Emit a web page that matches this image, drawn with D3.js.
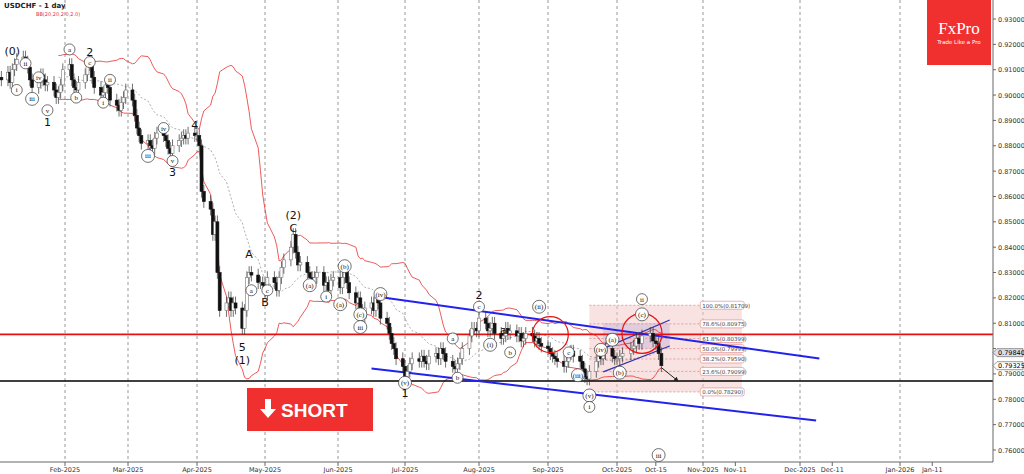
<!DOCTYPE html>
<html><head><meta charset="utf-8">
<script src="https://cdn.jsdelivr.net/npm/d3@7"></script>
<style>body{margin:0;background:#fff}svg{display:block;font-family:"DejaVu Sans",sans-serif}</style>
</head><body><svg id="c" width="1024" height="474"></svg>
<script>
// daily closes, month by month (trading days)
const closesJan = [0.907,0.906,0.909,0.905,0.910,0.912,0.914,0.915,0.913,0.911,0.906,0.903,0.905,0.908,0.906,0.904,0.905,0.902,0.899,0.901,0.904,0.910];
const closesFeb = [0.912,0.906,0.903,0.902,0.905,0.908,0.912,0.913,0.907,0.903,0.900,0.901,0.904,0.903,0.898,0.896,0.894,0.897,0.899,0.902];
const closesMar = [0.898,0.892,0.887,0.884,0.881,0.882,0.880,0.879,0.883,0.885,0.884,0.882,0.879,0.877,0.880,0.882,0.883,0.884,0.883,0.885,0.884];
const closesApr = [0.884,0.880,0.862,0.858,0.855,0.845,0.850,0.830,0.815,0.818,0.820,0.815,0.818,0.816,0.808,0.815,0.828,0.830,0.829,0.826,0.826,0.825];
const closesMay = [0.822,0.828,0.826,0.823,0.828,0.832,0.835,0.840,0.845,0.838,0.833,0.834,0.830,0.828,0.826,0.828,0.830,0.825,0.826,0.823,0.827,0.828];
const closesJun = [0.824,0.828,0.831,0.826,0.822,0.818,0.820,0.815,0.812,0.816,0.818,0.815,0.820,0.818,0.812,0.810,0.806,0.802,0.800,0.796,0.793];
const closesJul = [0.789,0.791,0.794,0.796,0.795,0.797,0.795,0.794,0.797,0.798,0.796,0.800,0.798,0.795,0.793,0.792,0.794,0.796,0.800,0.805,0.808,0.808,0.807];
const closesAug = [0.812,0.810,0.807,0.808,0.810,0.806,0.804,0.805,0.808,0.806,0.807,0.805,0.806,0.803,0.804,0.806,0.805,0.803,0.804,0.802,0.801];
const closesSep = [0.800,0.798,0.797,0.796,0.795,0.793,0.795,0.798,0.799,0.797,0.795,0.792,0.789,0.788,0.791,0.795,0.797,0.796,0.798,0.800,0.797,0.796];
const closesOct = [0.796,0.797,0.798,0.800,0.801,0.804,0.802,0.805,0.806,0.803,0.802,0.798,0.79325];

const monthTicks = ["2025-02-01","2025-03-01","2025-04-01","2025-05-01","2025-06-01","2025-07-01","2025-08-01","2025-09-01","2025-10-01","2025-11-01","2025-12-01","2026-01-01"];
const monthLabels = ["Feb-2025","Mar-2025","Apr-2025","May-2025","Jun-2025","Jul-2025","Aug-2025","Sep-2025","Oct-2025","Nov-2025","Dec-2025","Jan-2026"];
const midTicks = ["2025-10-15","2025-11-11","2025-12-11","2026-01-11"];
const midLabels = ["Oct-15","Nov-11","Dec-11","Jan-11"];
const monthPx = [65,128,197,265,338,405,479,548,617,703,800,900];
const priceTicks = [0.76,0.77,0.78,0.79,0.80,0.81,0.82,0.83,0.84,0.85,0.86,0.87,0.88,0.89,0.90,0.91,0.92,0.93];

const redLevel = 0.8056, blackLevel = 0.7872;
const channelUpper = [["2025-06-18",0.8205],["2025-12-07",0.7961]];
const channelLower = [["2025-06-16",0.7921],["2025-12-06",0.7716]];
const smallUpper = [["2025-09-25",0.8000],["2025-10-20",0.8113]];
const smallLower = [["2025-09-25",0.7908],["2025-10-20",0.8010]];
const fibLevels = [[1,0.81709],[0.786,0.80975],[0.618,0.80399],[0.5,0.79999],[0.382,0.79590],[0.236,0.79099],[0,0.78290]];
const waveLabels = [
 ["2025-01-08",0.9175,"(0)",0],["2025-01-14",0.9125,"ii",1],["2025-01-10",0.902,"i",1],["2025-01-20",0.907,"iv",1],["2025-01-17",0.8985,"iii",1],["2025-01-24",0.894,"v",1],["2025-01-24",0.8895,"1",0],
 ["2025-02-03",0.918,"a",1],["2025-02-06",0.899,"b",1],["2025-02-12",0.917,"2",0],["2025-02-12",0.913,"c",1],
 ["2025-02-18",0.897,"i",1],["2025-02-21",0.906,"ii",1],["2025-03-10",0.876,"iii",1],["2025-03-17",0.887,"iv",1],["2025-03-21",0.874,"v",1],["2025-03-21",0.8695,"3",0],["2025-03-31",0.888,"4",0],
 ["2025-04-21",0.8005,"5",0],["2025-04-21",0.7955,"(1)",0],["2025-04-24",0.8375,"A",0],["2025-04-25",0.823,"a",1],["2025-05-01",0.8185,"B",0],["2025-05-02",0.823,"c",1],
 ["2025-05-13",0.8525,"(2)",0],["2025-05-13",0.8475,"C",0],["2025-05-20",0.825,"(a)",1],["2025-06-04",0.8325,"(b)",1],["2025-05-27",0.8205,"i",1],["2025-06-02",0.8175,"(a)",1],
 ["2025-06-20",0.8215,"(iv)",1],["2025-06-11",0.8135,"(c)",1],["2025-06-11",0.8085,"iii",1],["2025-07-01",0.7865,"(v)",1],["2025-07-01",0.7825,"1",0],
 ["2025-07-23",0.7885,"b",1],["2025-07-21",0.804,"a",1],["2025-08-01",0.821,"2",0],["2025-08-01",0.8165,"c",1],["2025-08-12",0.8075,"a",0],["2025-08-06",0.8015,"(i)",1],["2025-08-15",0.7985,"b",1],
 ["2025-08-28",0.8165,"(ii)",1],["2025-09-10",0.7985,"c",1],["2025-09-24",0.7995,"(iv)",1],["2025-09-14",0.7895,"(iii)",1],["2025-09-19",0.7815,"(v)",1],["2025-09-19",0.777,"i",1],
 ["2025-09-29",0.8035,"(a)",1],["2025-10-02",0.7905,"(b)",1],["2025-10-10",0.8135,"(c)",1],["2025-10-10",0.8195,"ii",1],["2025-10-16",0.758,"iii",1]
];

const svg = d3.select("#c");
const W = 993, axisY = 462;
const x = d3.scaleTime()
  .domain([new Date("2025-01-01"), ...monthTicks.map(d => new Date(d))])
  .range([-3, ...monthPx]);
const y = d3.scaleLinear().domain([0.76, 0.93]).range([450, 19]);

// build candles
const closes = [].concat(closesJan,closesFeb,closesMar,closesApr,closesMay,closesJun,closesJul,closesAug,closesSep,closesOct);
const days = [];
for (let d = new Date("2025-01-02"); days.length < closes.length; d = new Date(+d + 864e5)) {
  if (d.getUTCDay() !== 0 && d.getUTCDay() !== 6) days.push(d);
}
const bars = closes.map((c, i) => {
  const o = i ? closes[i - 1] : 0.906;
  return {date: days[i], o, c, h: Math.max(o, c) + 0.0025, l: Math.min(o, c) - 0.0025};
});

// bollinger bands
const bb = [];
bars.forEach((b, i) => {
  if (i < 19) return;
  const w = closes.slice(i - 19, i + 1), m = d3.mean(w), s = d3.deviation(w) * Math.sqrt(19 / 20);
  bb.push({date: b.date, m, u: m + 2 * s, l: m - 2 * s});
});

// grid
svg.append("g").selectAll("line").data(monthTicks).join("line")
  .attr("x1", d => x(new Date(d))).attr("x2", d => x(new Date(d)))
  .attr("y1", 0).attr("y2", axisY).attr("stroke", "#999").attr("stroke-dasharray", "3,3");

// fib box
const fx1 = x(new Date("2025-09-19")), fx2 = x(new Date("2025-11-13"));
svg.append("rect").attr("x", fx1).attr("width", fx2 - fx1).attr("y", y(0.81709)).attr("height", y(0.7829) - y(0.81709))
  .attr("fill", "#f4c6c6").attr("opacity", 0.5);
svg.append("rect").attr("x", x(new Date("2025-09-25"))).attr("width", x(new Date("2025-10-20")) - x(new Date("2025-09-25")))
  .attr("y", y(0.8100)).attr("height", y(0.8000) - y(0.8100)).attr("fill", "#c8b6d8").attr("opacity", 0.5);
const fib = svg.append("g").selectAll("g").data(fibLevels).join("g");
fib.append("line").attr("x1", fx1).attr("x2", fx2).attr("y1", d => y(d[1])).attr("y2", d => y(d[1]))
  .attr("stroke", "#e08080").attr("stroke-dasharray", "2,2").attr("stroke-width", 0.7);
fib.append("rect").attr("x", x(new Date("2025-10-31"))).attr("y", d => y(d[1]) - 4).attr("width", 44).attr("height", 8)
  .attr("rx", 2).attr("fill", "#fff").attr("stroke", "#e08080").attr("stroke-width", 0.6);
fib.append("text").attr("x", x(new Date("2025-10-31")) + 2).attr("y", d => y(d[1]) + 2.5).attr("font-size", 5.5).attr("fill", "#444")
  .text(d => (d[0] * 100).toFixed(1) + "%(" + d[1].toFixed(5) + ")");

// bands
const bandLine = k => d3.line().x(d => x(d.date)).y(d => y(d[k]));
svg.append("path").datum(bb).attr("d", bandLine("u")).attr("fill", "none").attr("stroke", "#e83030").attr("stroke-width", 0.8);
svg.append("path").datum(bb).attr("d", bandLine("l")).attr("fill", "none").attr("stroke", "#e83030").attr("stroke-width", 0.8);
svg.append("path").datum(bb).attr("d", bandLine("m")).attr("fill", "none").attr("stroke", "#777").attr("stroke-width", 0.6).attr("stroke-dasharray", "2,2");

// levels
svg.append("line").attr("x1", 0).attr("x2", W).attr("y1", y(redLevel)).attr("y2", y(redLevel)).attr("stroke", "#e81010").attr("stroke-width", 1.6);
svg.append("line").attr("x1", 0).attr("x2", W).attr("y1", y(blackLevel)).attr("y2", y(blackLevel)).attr("stroke", "#000").attr("stroke-width", 1.6);

// channels
[channelUpper, channelLower].forEach(c => svg.append("line")
  .attr("x1", x(new Date(c[0][0]))).attr("y1", y(c[0][1])).attr("x2", x(new Date(c[1][0]))).attr("y2", y(c[1][1]))
  .attr("stroke", "#2222ee").attr("stroke-width", 2));
[smallUpper, smallLower].forEach(c => svg.append("line")
  .attr("x1", x(new Date(c[0][0]))).attr("y1", y(c[0][1])).attr("x2", x(new Date(c[1][0]))).attr("y2", y(c[1][1]))
  .attr("stroke", "#3333aa").attr("stroke-width", 1.2));

// candles
const cg = svg.append("g").selectAll("g").data(bars).join("g");
cg.append("line").attr("x1", d => x(d.date)).attr("x2", d => x(d.date)).attr("y1", d => y(d.h)).attr("y2", d => y(d.l)).attr("stroke", "#333").attr("stroke-width", 0.7);
cg.append("rect").attr("x", d => x(d.date) - 1.5).attr("width", 3)
  .attr("y", d => y(Math.max(d.o, d.c))).attr("height", d => Math.max(1, Math.abs(y(d.o) - y(d.c))))
  .attr("fill", d => d.c >= d.o ? "#fff" : "#111").attr("stroke", d => d.c >= d.o ? "#777" : "#111").attr("stroke-width", 0.6);

// circles
[["2025-09-02",0.8055,18],["2025-10-10",0.8060,20]].forEach(c => svg.append("circle")
  .attr("cx", x(new Date(c[0]))).attr("cy", y(c[1])).attr("r", c[2]).attr("fill", "none").attr("stroke", "#e81010").attr("stroke-width", 1.2));

// arrow
svg.append("defs").append("marker").attr("id", "ar").attr("viewBox", "0 0 10 10").attr("refX", 8).attr("refY", 5)
  .attr("markerWidth", 5).attr("markerHeight", 5).attr("orient", "auto").append("path").attr("d", "M0,0L10,5L0,10z").attr("fill", "#222");
svg.append("line").attr("x1", x(new Date("2025-10-17"))).attr("y1", y(0.7925)).attr("x2", x(new Date("2025-10-23"))).attr("y2", y(0.7872))
  .attr("stroke", "#222").attr("stroke-width", 1).attr("marker-end", "url(#ar)");

// wave labels
const wl = svg.append("g").selectAll("g").data(waveLabels).join("g")
  .attr("transform", d => `translate(${x(new Date(d[0]))},${y(d[1])})`);
wl.filter(d => d[3]).append("circle").attr("r", d => d[2].length > 2 ? 6.5 : 5.5).attr("fill", "#fff").attr("stroke", "#333").attr("stroke-width", 0.7);
wl.append("text").attr("text-anchor", "middle").attr("dy", d => d[3] ? 2.5 : 4)
  .attr("font-family", d => d[3] ? "Liberation Serif, serif" : "DejaVu Sans, sans-serif")
  .attr("font-size", d => d[3] ? 7 : 11).attr("fill", "#111").text(d => d[2]);

// SHORT banner
const sb = svg.append("g").attr("transform", "translate(247,388)");
sb.append("rect").attr("width", 126).attr("height", 43).attr("fill", "#f0302e");
sb.append("path").attr("d", "M18,11h6v10h5l-8,9l-8,-9h5z").attr("fill", "#fff");
sb.append("text").attr("x", 34).attr("y", 29).attr("font-size", 19).attr("font-weight", "bold").attr("fill", "#fff").attr("font-family", "Liberation Sans, Arial, sans-serif").text("SHORT");

// logo
const lg = svg.append("g").attr("transform", "translate(927,0)");
lg.append("rect").attr("width", 64).attr("height", 65).attr("fill", "#f0302e");
lg.append("text").attr("x", 32).attr("y", 34).attr("text-anchor", "middle").attr("font-family", "Liberation Serif, serif").attr("font-size", 17).attr("fill", "#fff").text("FxPro");
lg.append("text").attr("x", 32).attr("y", 44).attr("text-anchor", "middle").attr("font-size", 5.5).attr("fill", "#fff").text("Trade Like a Pro");

// headers
svg.append("text").attr("x", 4).attr("y", 8).attr("font-size", 7).attr("font-weight", "bold").attr("fill", "#222").text("USDCHF - 1 day");
svg.append("text").attr("x", 36).attr("y", 16).attr("font-size", 5).attr("fill", "#e83030").text("BB(20,20,2.0,2.0)");

// right axis
svg.append("line").attr("x1", W).attr("x2", W).attr("y1", 0).attr("y2", axisY).attr("stroke", "#666");
const ra = svg.append("g").selectAll("g").data(priceTicks.filter(d => d !== 0.80)).join("g").attr("transform", d => `translate(${W},${y(d)})`);
ra.append("line").attr("x2", 3).attr("stroke", "#666");
ra.append("text").attr("x", 5).attr("dy", 2.5).attr("font-size", 6.5).attr("fill", "#333").text(d => d.toFixed(5));
svg.append("line").attr("x1", W).attr("x2", W + 3).attr("y1", y(0.80)).attr("y2", y(0.80)).attr("stroke", "#666");
[[0.7984,"#dde","#000"],[0.79325,"#fff","#000"]].forEach(b => {
  const g = svg.append("g").attr("transform", `translate(${W},${y(b[0])})`);
  g.append("path").attr("d", "M0,0l4,-4h26v8h-26z").attr("fill", b[1]).attr("stroke", "#555").attr("stroke-width", 0.6);
  g.append("text").attr("x", 5).attr("dy", 2.5).attr("font-size", 6.5).attr("fill", b[2]).text(b[0].toFixed(5));
});

// bottom axis
svg.append("line").attr("x1", 0).attr("x2", W).attr("y1", axisY).attr("y2", axisY).attr("stroke", "#666");
const ticks = monthTicks.map((d, i) => [d, monthLabels[i]]).concat(midTicks.map((d, i) => [d, midLabels[i]]));
const ba = svg.append("g").selectAll("g").data(ticks).join("g").attr("transform", d => `translate(${x(new Date(d[0]))},${axisY})`);
ba.append("line").attr("y2", 4).attr("stroke", "#666");
ba.append("text").attr("y", 10).attr("text-anchor", "middle").attr("font-size", 6.5).attr("fill", "#333").text(d => d[1]);
</script></body></html>
